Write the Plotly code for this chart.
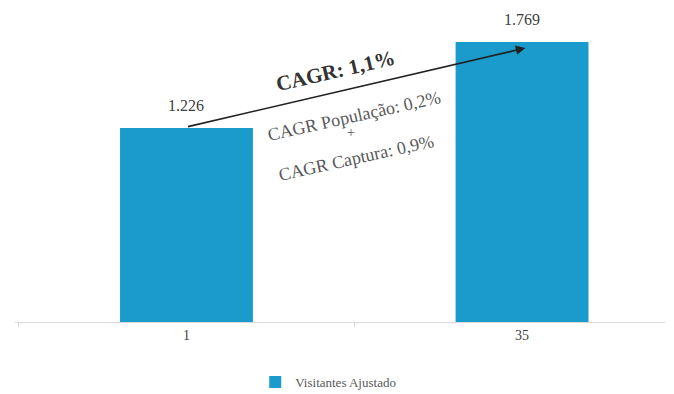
import plotly.graph_objects as go

categories = ["1", "35"]
values = [1226, 1769]
series_name = "Visitantes Ajustado"
cagr_total = "CAGR: 1,1%"
cagr_pop = "CAGR População: 0,2%"
cagr_cap = "CAGR Captura: 0,9%"

bar_color = "#1A9BCB"
font_family = "Liberation Serif, Times New Roman, serif"

fig = go.Figure()
fig.add_trace(go.Bar(
    x=categories, y=values, name=series_name,
    marker=dict(color=bar_color, line=dict(width=0)),
    width=0.396,
))

# value labels above bars (category index positions)
for i, v in enumerate(values):
    fig.add_annotation(x=i, y=v, xref="x", yref="y", text=f"{v:,}".replace(",", "."),
                       showarrow=False, yanchor="bottom", yshift=12,
                       font=dict(family=font_family, size=16, color="#404040"))

# Arrow from first bar top to near second bar top
fig.add_annotation(
    x=1.01, y=1731, ax=0.0, ay=1232,
    xref="x", yref="y", axref="x", ayref="y",
    showarrow=True, arrowhead=2, arrowsize=1.2, arrowwidth=1.6,
    arrowcolor="#222222", text="",
)
fig.add_annotation(x=0.443, y=1585, xref="x", yref="y", text="<b>" + cagr_total + "</b>",
                   showarrow=False, textangle=-13,
                   font=dict(family=font_family, size=21, color="#333333"))
fig.add_annotation(x=0.5, y=1301, xref="x", yref="y", text=cagr_pop,
                   showarrow=False, textangle=-12.5,
                   font=dict(family=font_family, size=18, color="#595959"))
fig.add_annotation(x=0.49, y=1195, xref="x", yref="y", text="+",
                   showarrow=False,
                   font=dict(family=font_family, size=14, color="#595959"))
fig.add_annotation(x=0.505, y=1036, xref="x", yref="y", text=cagr_cap,
                   showarrow=False, textangle=-12.5,
                   font=dict(family=font_family, size=18, color="#595959"))

fig.update_layout(
    width=674, height=394,
    margin=dict(l=15, r=9, t=20, b=72),
    paper_bgcolor="white", plot_bgcolor="white",
    font=dict(family=font_family, size=14, color="#404040"),
    showlegend=True,
    legend=dict(orientation="h", xref="container", yref="container",
                x=0.487, xanchor="center", y=1 - 382 / 394, yanchor="middle",
                font=dict(family=font_family, size=13, color="#595959"),
                itemwidth=30),
    xaxis=dict(type="category", range=[-0.511, 1.426],
               showline=True, linecolor="#D9D9D9", linewidth=1,
               ticks="outside", tickson="boundaries", ticklen=4, tickcolor="#D9D9D9",
               tickfont=dict(family=font_family, size=14, color="#404040"),
               showgrid=False, zeroline=False),
    yaxis=dict(range=[0, 1908], visible=False, showgrid=False, zeroline=False),
)

fig.write_html("out.html")
